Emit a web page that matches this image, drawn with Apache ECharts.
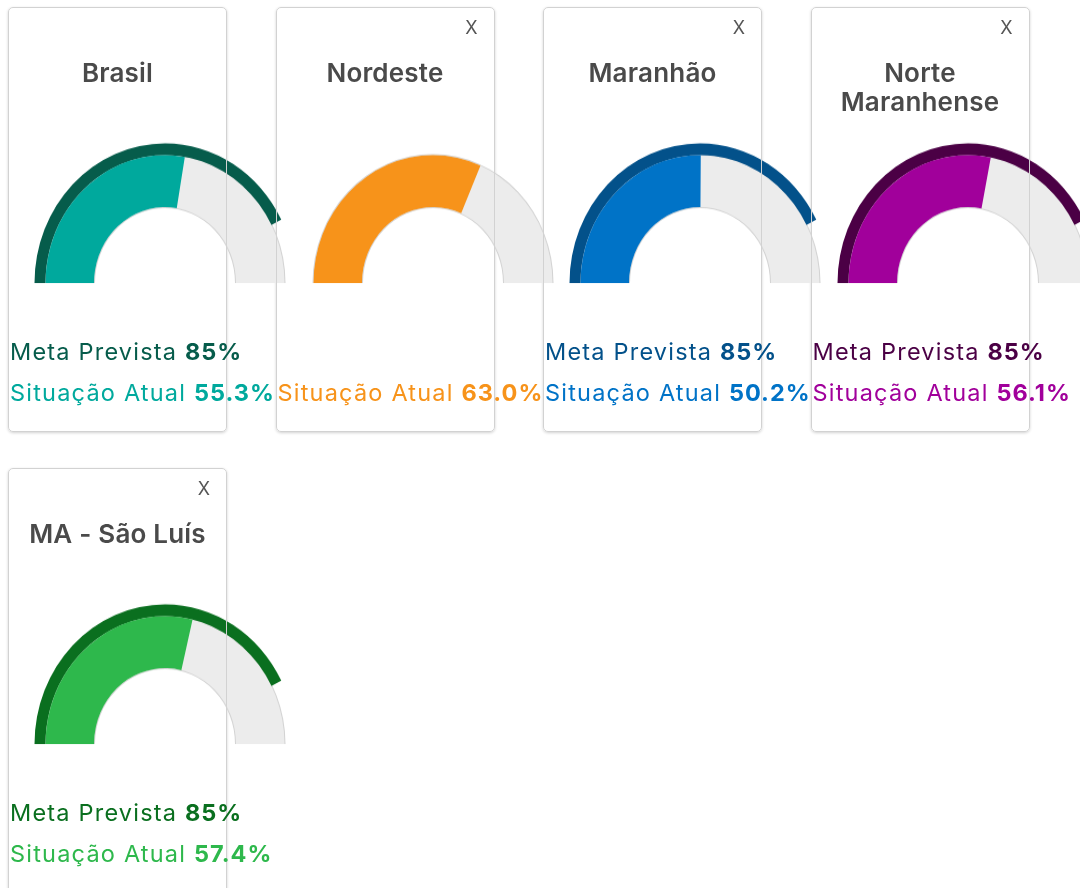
<!DOCTYPE html>
<html>
<head>
<meta charset="utf-8">
<script src="https://cdn.jsdelivr.net/npm/echarts@6/dist/echarts.min.js"></script>
<style>
  html, body {
    margin: 0;
    padding: 0;
    background: #fff;
    width: 1080px;
    height: 888px;
    overflow: hidden;
    font-family: "Inter", "Open Sans", sans-serif;
  }
  #page { position: relative; width: 1080px; height: 888px; }
  .card-bg, .card-border {
    position: absolute;
    box-sizing: border-box;
    border-radius: 5px;
  }
  .card-bg { background: #fff; box-shadow: 0 1px 3px rgba(0, 0, 0, 0.18); z-index: 0; }
  .card-border { border: 1px solid #d2d2d2; z-index: 2; }
  .gauge { position: absolute; width: 300px; height: 160px; z-index: 1; transform-origin: 150px 150px; transform: scaleY(1.07); }
  .title {
    position: absolute;
    text-align: center;
    font-weight: 600;
    font-size: 26px;
    line-height: 29px;
    letter-spacing: 0.2px;
    color: #4a4a4a;
    z-index: 3;
  }
  .close {
    position: absolute;
    width: 20px;
    text-align: center;
    font-size: 18px;
    line-height: 20px;
    color: #555;
    z-index: 3;
  }
  .info {
    position: absolute;
    white-space: nowrap;
    font-size: 23.5px;
    line-height: 30px;
    letter-spacing: 1.2px;
    z-index: 3;
  }
  .info b { font-weight: 700; letter-spacing: 1px; }
</style>
</head>
<body>
<div id="page"></div>
<script>
// Card data
const regions = ["Brasil", "Nordeste", "Maranhão", "Norte Maranhense", "MA - São Luís"];
const metaPrevista = [85, null, 85, 85, 85]; // Nordeste has no target
const situacaoAtual = [55.3, 63.0, 50.2, 56.1, 57.4];
const closable = [false, true, true, true, true];

// Colors per card
const darkColors = ["#065c4b", null, "#03518a", "#4b0045", "#0a6f1f"];
const fillColors = ["#00a99d", "#f7931a", "#0073c7", "#a1009b", "#2eb84c"];

const page = document.getElementById("page");

// Card geometry
const cardW = 219;
const cardH = 425;
const cardStep = 267.5;
const perRow = 4;

const fmt = (v) => v.toFixed(1) + "%";

const add = (cls, css, html) => {
  const el = document.createElement("div");
  el.className = cls;
  Object.assign(el.style, css);
  if (html != null) el.innerHTML = html;
  page.appendChild(el);
  return el;
};

const hidden = {
  pointer: { show: false },
  axisTick: { show: false },
  splitLine: { show: false },
  axisLabel: { show: false },
  detail: { show: false },
  title: { show: false },
};

regions.forEach((name, i) => {
  const left = 8 + (i % perRow) * cardStep;
  const top = 7 + Math.floor(i / perRow) * 460.5;

  add("card-bg", { left: left + "px", top: top + "px", width: cardW + "px", height: cardH + "px" });
  add("card-border", { left: left + "px", top: top + "px", width: cardW + "px", height: cardH + "px" });

  // Title
  add("title", { left: left + 8 + "px", top: top + 51 + "px", width: cardW - 16 + "px" }, name);

  if (closable[i]) {
    add("close", { left: left + cardW - 33 + "px", top: top + 11 + "px" }, "X");
  }

  // Meta / situacao texts
  if (metaPrevista[i] != null) {
    add("info", { left: left + 2 + "px", top: top + 330 + "px", color: darkColors[i] },
      "Meta Prevista <b>" + metaPrevista[i] + "%</b>");
  }
  add("info", { left: left + 2 + "px", top: top + 371 + "px", color: fillColors[i] },
    "Situação Atual <b>" + fmt(situacaoAtual[i]) + "</b>");

  // Gauge
  const cx = left + 157;
  const cy = top + 276;
  const div = add("gauge", { left: cx - 150 + "px", top: cy - 150 + "px" });
  const chart = echarts.init(div, null, { renderer: "canvas", devicePixelRatio: 1 });

  const base = {
    type: "gauge",
    center: [150, 150],
    startAngle: 180,
    endAngle: 0,
    min: 0,
    max: 100,
    silent: true,
    ...hidden,
  };

  const series = [
    // thin outline around the band
    {
      ...base,
      radius: 120.5,
      axisLine: { lineStyle: { width: 50.5, color: [[1, "#d3d3d3"]] } },
      data: [{ value: 0 }],
    },
    // grey track + current value
    {
      ...base,
      radius: 119.5,
      axisLine: { lineStyle: { width: 48.5, color: [[1, "#ececec"]] } },
      progress: { show: true, width: 48.5, itemStyle: { color: fillColors[i] } },
      data: [{ value: situacaoAtual[i] }],
    },
  ];

  if (metaPrevista[i] != null) {
    // outer arc showing target
    series.push({
      ...base,
      radius: 130.5,
      axisLine: { show: false },
      progress: { show: true, width: 11, itemStyle: { color: darkColors[i] } },
      data: [{ value: metaPrevista[i] }],
    });
  }

  chart.setOption({ animation: false, series: series });
});
</script>
</body>
</html>
